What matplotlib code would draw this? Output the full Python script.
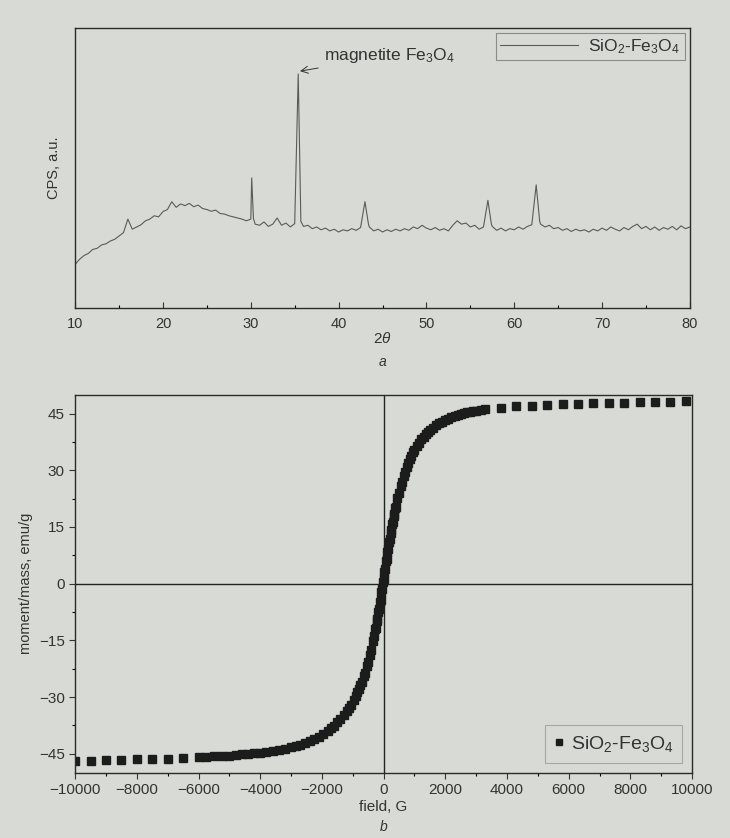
import numpy as np
import matplotlib.pyplot as plt
from matplotlib.ticker import MultipleLocator

plt.rcParams['font.family'] = ['Liberation Sans', 'DejaVu Sans']
plt.rcParams['mathtext.fontset'] = 'custom'
plt.rcParams['mathtext.rm'] = 'Liberation Sans'
plt.rcParams['mathtext.it'] = 'Liberation Sans:italic'

paper = '#d8dbd5'
ink = '#333333'

# XRD pattern, SiO2-Fe3O4 (2theta in degrees, counts a.u.)
two_theta = [10.0, 10.5, 11.0, 11.5, 12.0, 12.5, 13.0, 13.5, 14.0, 14.5, 15.0, 15.5,
             16.0, 16.5, 17.0, 17.5, 18.0, 18.5, 19.0, 19.5, 20.0, 20.5, 21.0, 21.5,
             22.0, 22.5, 23.0, 23.5, 24.0, 24.5, 25.0, 25.5, 26.0, 26.5, 27.0, 27.5,
             28.0, 28.5, 29.0, 29.5, 30.0, 30.1, 30.3, 30.5, 31.0, 31.5, 32.0, 32.5,
             33.0, 33.5, 34.0, 34.5, 35.0, 35.4, 35.7, 36.0, 36.5, 37.0, 37.5, 38.0,
             38.5, 39.0, 39.5, 40.0, 40.5, 41.0, 41.5, 42.0, 42.5, 43.0, 43.4, 43.5,
             44.0, 44.5, 45.0, 45.5, 46.0, 46.5, 47.0, 47.5, 48.0, 48.5, 49.0, 49.5,
             50.0, 50.5, 51.0, 51.5, 52.0, 52.5, 53.0, 53.5, 54.0, 54.5, 55.0, 55.5,
             56.0, 56.5, 57.0, 57.4, 57.5, 58.0, 58.5, 59.0, 59.5, 60.0, 60.5, 61.0,
             61.5, 62.0, 62.5, 62.9, 63.0, 63.5, 64.0, 64.5, 65.0, 65.5, 66.0, 66.5,
             67.0, 67.5, 68.0, 68.5, 69.0, 69.5, 70.0, 70.5, 71.0, 71.5, 72.0, 72.5,
             73.0, 73.5, 74.0, 74.5, 75.0, 75.5, 76.0, 76.5, 77.0, 77.5, 78.0, 78.5,
             79.0, 79.5, 80.0]
cps = [157, 175, 188, 196, 210, 214, 226, 230, 240, 246, 258, 270,
       318, 282, 290, 298, 312, 318, 330, 326, 345, 352, 380, 360,
       372, 366, 374, 362, 368, 356, 352, 346, 350, 338, 336, 330,
       326, 322, 318, 312, 318, 465, 320, 300, 296, 308, 292, 300,
       322, 296, 304, 290, 302, 835, 310, 292, 296, 284, 290, 280,
       286, 276, 282, 272, 280, 276, 284, 278, 288, 380, 300, 290,
       276, 282, 272, 280, 274, 282, 276, 284, 278, 290, 284, 296,
       286, 280, 288, 278, 284, 276, 296, 312, 300, 304, 290, 296,
       282, 290, 385, 300, 292, 278, 286, 276, 284, 280, 290, 282,
       292, 298, 440, 310, 300, 290, 296, 284, 288, 278, 284, 274,
       282, 276, 280, 272, 282, 276, 286, 278, 290, 282, 276, 288,
       280, 292, 300, 284, 292, 280, 290, 278, 288, 282, 292, 280,
       294, 284, 290]

# magnetisation curve, ascending sweep
field_up = [-10000, -9500, -9000, -8500, -8000, -7500, -7000, -6500, -6000, -5500,
            -5000, -4600, -4200, -3800, -3400, -3000, -2700, -2400, -2100, -1800,
            -1600, -1400, -1200, -1050, -900, -800, -700, -600, -500, -400,
            -300, -250, -200, -150, -100, -50, 0, 50, 100, 150,
            200, 250, 300, 350, 400, 500, 600, 700, 800, 900,
            1000, 1150, 1300, 1450, 1600, 1800, 2000, 2200, 2400, 2600,
            2800, 3000, 3300, 3800, 4300, 4800, 5300, 5800, 6300, 6800,
            7300, 7800, 8300, 8800, 9300, 9800]
moment_up = [-46.9, -46.8, -46.7, -46.6, -46.5, -46.4, -46.3, -46.1, -45.9, -45.7,
             -45.5, -45.2, -44.9, -44.5, -44.0, -43.3, -42.6, -41.7, -40.5, -39.0,
             -37.6, -35.9, -33.8, -32.0, -29.8, -28.0, -26.0, -23.6, -20.8, -17.6,
             -13.8, -11.6, -9.3, -6.8, -4.2, -1.5, 1.2, 3.9, 6.6, 9.2,
             11.7, 14.1, 16.3, 18.4, 20.4, 24.0, 27.0, 29.6, 31.8, 33.7,
             35.3, 37.3, 38.9, 40.2, 41.3, 42.4, 43.3, 44.0, 44.6, 45.1,
             45.5, 45.8, 46.2, 46.6, 46.9, 47.1, 47.3, 47.5, 47.6, 47.7,
             47.8, 47.9, 48.0, 48.1, 48.2, 48.3]

# descending sweep (central part)
field_down = [3150, 2900, 2700, 2500, 2300, 2100, 1900, 1700, 1500, 1375,
              1225, 1075, 950, 850, 750, 650, 550, 450, 375, 325,
              275, 225, 175, 125, 75, 25, -25, -75, -125, -175,
              -225, -275, -350, -450, -550, -650, -750, -850, -975, -1125,
              -1300, -1500, -1700, -1950, -2250, -2550, -2850, -3200, -3600, -4000,
              -4400, -4800, -5250, -5750]
moment_down = [46.0, 45.7, 45.3, 44.9, 44.3, 43.7, 42.9, 41.9, 40.6, 39.7,
               38.3, 36.5, 34.8, 33.0, 31.0, 28.6, 25.9, 22.6, 19.9, 17.9,
               15.8, 13.5, 11.0, 8.5, 5.9, 3.2, 0.5, -2.2, -4.9, -7.4,
               -9.8, -12.1, -15.3, -18.9, -21.9, -24.5, -26.8, -28.7, -30.8, -32.9,
               -34.8, -36.7, -38.2, -39.8, -41.1, -42.1, -42.9, -43.7, -44.3, -44.7,
               -45.1, -45.4, -45.6, -45.8]

label = 'SiO$_2$-Fe$_3$O$_4$'

fig = plt.figure(figsize=(7.3, 8.38), dpi=100, facecolor=paper)

# ---- a: XRD ----
ax1 = fig.add_axes([0.103, 0.632, 0.842, 0.335], facecolor=paper)
ax1.plot(two_theta, cps, color='#5a5a5a', lw=0.8, label=label)
ax1.set_xlim(10, 80)
ax1.set_ylim(0, 1000)
ax1.set_yticks([])
ax1.xaxis.set_major_locator(MultipleLocator(10))
ax1.xaxis.set_minor_locator(MultipleLocator(5))
ax1.tick_params(axis='x', direction='in', length=4, width=0.8, colors=ink,
                labelsize=10.5, pad=6)
ax1.tick_params(axis='x', which='minor', direction='in', length=2.5, width=0.8)
ax1.set_ylabel('CPS, a.u.', fontsize=10.5, color=ink, labelpad=10)
ax1.set_xlabel('2$\\it{\\theta}$', fontsize=11, color=ink, labelpad=0)
ax1.text(0.5, -0.19, 'a', transform=ax1.transAxes, ha='center', va='center',
         fontsize=10, style='italic', color=ink)
ax1.annotate('magnetite Fe$_3$O$_4$', xy=(35.6, 845), xytext=(38.3, 900),
             fontsize=12.5, color=ink, va='center',
             arrowprops=dict(arrowstyle='->', color=ink, lw=0.7,
                             shrinkA=2, shrinkB=0))
leg1 = ax1.legend(loc='upper right', fontsize=12.5, handlelength=4.5,
                  fancybox=False, borderaxespad=0.3, borderpad=0.25,
                  handletextpad=0.6)
leg1.get_frame().set_edgecolor('#777777')
leg1.get_frame().set_facecolor(paper)
leg1.get_frame().set_linewidth(0.8)
for t in leg1.get_texts():
    t.set_color(ink)

# ---- b: magnetisation ----
ax2 = fig.add_axes([0.103, 0.078, 0.845, 0.451], facecolor=paper)
ax2.axhline(0, color='#222222', lw=1.0)
ax2.axvline(0, color='#222222', lw=1.0)
ax2.plot(field_up, moment_up, ls='none', marker='s', markersize=5.5,
         color='#1c1c1c', label=label)
ax2.plot(field_down, moment_down, ls='none', marker='s', markersize=5.5,
         color='#1c1c1c')
ax2.set_xlim(-10000, 10000)
ax2.set_ylim(-50, 50)
ax2.xaxis.set_major_locator(MultipleLocator(2000))
ax2.xaxis.set_minor_locator(MultipleLocator(1000))
ax2.yaxis.set_major_locator(MultipleLocator(15))
ax2.yaxis.set_minor_locator(MultipleLocator(7.5))
ax2.tick_params(direction='out', length=4, width=0.8, colors=ink, labelsize=11)
ax2.tick_params(which='minor', direction='out', length=2.5, width=0.8)
ax2.set_yticks([-45, -30, -15, 0, 15, 30, 45])
ax2.set_yticklabels(['\u221245', '\u221230', '\u221215', '0', '15', '30', '45'])
ax2.set_xlabel('field, G', fontsize=11, color=ink, labelpad=2)
ax2.set_ylabel('moment/mass, emu/g', fontsize=10.5, color=ink, labelpad=4)
ax2.text(0.5, -0.145, 'b', transform=ax2.transAxes, ha='center', va='center',
         fontsize=10, style='italic', color=ink)
leg2 = ax2.legend(loc='lower right', fontsize=14, handlelength=0.6,
                  fancybox=False, borderaxespad=0.5, borderpad=0.45,
                  handletextpad=0.3, markerscale=0.8)
leg2.get_frame().set_edgecolor('#999999')
leg2.get_frame().set_facecolor(paper)
leg2.get_frame().set_linewidth(0.8)
for t in leg2.get_texts():
    t.set_color(ink)

for ax in (ax1, ax2):
    for s in ax.spines.values():
        s.set_color('#2a2a2a')
        s.set_linewidth(1.0)

plt.savefig('out.png', dpi=100, facecolor=paper)
